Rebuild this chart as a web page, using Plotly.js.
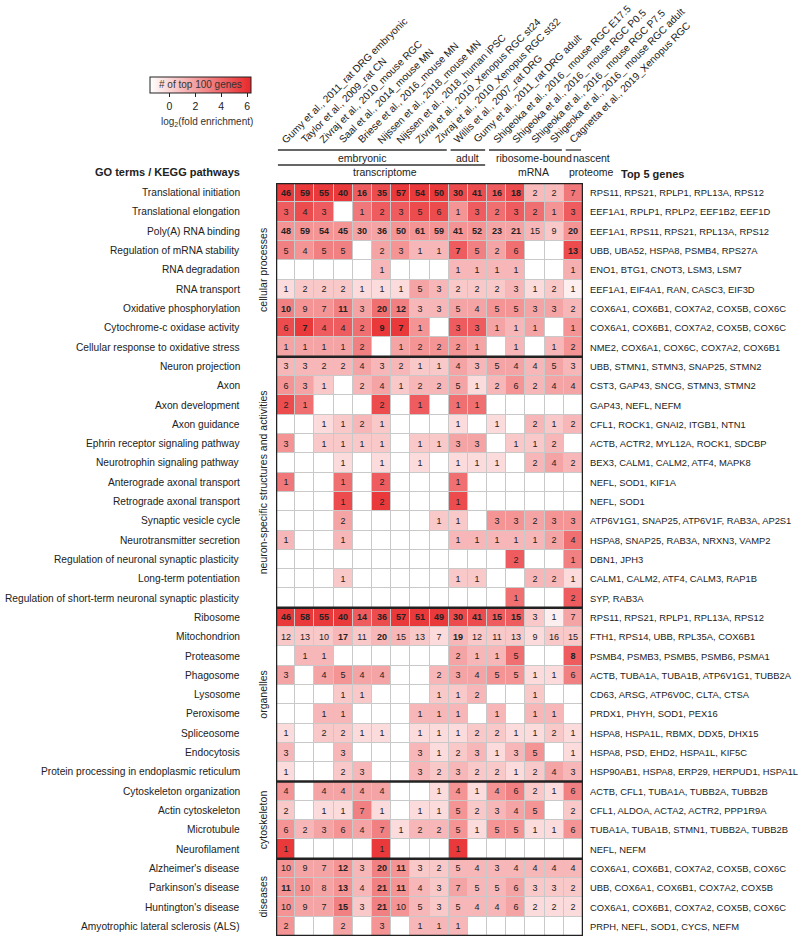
<!DOCTYPE html>
<html><head><meta charset="utf-8">
<script src="https://cdn.plot.ly/plotly-3.0.1.min.js"></script>
<style>html,body{margin:0;padding:0;background:#fff}</style>
</head><body><div id="chart" style="width:800px;height:939px"></div>
<script>
const _ = null;
const studies = [
  "Gumy et al., 2011_rat DRG embryonic",
  "Taylor et al., 2009_rat CN",
  "Zivraj et al., 2010_mouse RGC",
  "Saal et al., 2014_mouse MN",
  "Briese et al., 2016_mouse MN",
  "Nijssen et al., 2018_mouse MN",
  "Nijssen et al., 2018_human iPSC",
  "Zivraj et al., 2010_Xenopus RGC st24",
  "Zivraj et al., 2010_Xenopus RGC st32",
  "Willis et al., 2007_rat DRG",
  "Gumy et al., 2011_rat DRG adult",
  "Shigeoka et al., 2016_ mouse RGC E17.5",
  "Shigeoka et al., 2016_ mouse RGC P0.5",
  "Shigeoka et al., 2016_ mouse RGC P7.5",
  "Shigeoka et al., 2016_ mouse RGC adult",
  "Cagnetta et al., 2019_Xenopus RGC"
];
const stageLabels = ["embryonic", "adult", "ribosome-bound", "nascent"];
const stageSizes = [9, 2, 4, 1];
const methodLabels = ["transcriptome", "mRNA", "proteome"];
const methodSizes = [11, 4, 1];

const categoryGroups = ["cellular processes", "neuron-specific structures and activities", "organelles", "cytoskeleton", "diseases"];
const categoryGroupSizes = [9, 13, 9, 4, 4];

const categories = [
  "Translational initiation", "Translational elongation", "Poly(A) RNA binding", "Regulation of mRNA stability",
  "RNA degradation", "RNA transport", "Oxidative phosphorylation", "Cytochrome-c oxidase activity",
  "Cellular response to oxidative stress",
  "Neuron projection", "Axon", "Axon development", "Axon guidance", "Ephrin receptor signaling pathway",
  "Neurotrophin signaling pathway", "Anterograde axonal transport", "Retrograde axonal transport",
  "Synaptic vesicle cycle", "Neurotransmitter secretion", "Regulation of neuronal synaptic plasticity",
  "Long-term potentiation", "Regulation of short-term neuronal synaptic plasticity",
  "Ribosome", "Mitochondrion", "Proteasome", "Phagosome", "Lysosome", "Peroxisome", "Spliceosome",
  "Endocytosis", "Protein processing in endoplasmic reticulum",
  "Cytoskeleton organization", "Actin cytoskeleton", "Microtubule", "Neurofilament",
  "Alzheimer's disease", "Parkinson's disease", "Huntington's disease", "Amyotrophic lateral sclerosis (ALS)"
];

const topGenes = [
  "RPS11, RPS21, RPLP1, RPL13A, RPS12",
  "EEF1A1, RPLP1, RPLP2, EEF1B2, EEF1D",
  "EEF1A1, RPS11, RPS21, RPL13A, RPS12",
  "UBB, UBA52, HSPA8, PSMB4, RPS27A",
  "ENO1, BTG1, CNOT3, LSM3, LSM7",
  "EEF1A1, EIF4A1, RAN, CASC3, EIF3D",
  "COX6A1, COX6B1, COX7A2, COX5B, COX6C",
  "COX6A1, COX6B1, COX7A2, COX5B, COX6C",
  "NME2, COX6A1, COX6C, COX7A2, COX6B1",
  "UBB, STMN1, STMN3, SNAP25, STMN2",
  "CST3, GAP43, SNCG, STMN3, STMN2",
  "GAP43, NEFL, NEFM",
  "CFL1, ROCK1, GNAI2, ITGB1, NTN1",
  "ACTB, ACTR2, MYL12A, ROCK1, SDCBP",
  "BEX3, CALM1, CALM2, ATF4, MAPK8",
  "NEFL, SOD1, KIF1A",
  "NEFL, SOD1",
  "ATP6V1G1, SNAP25, ATP6V1F, RAB3A, AP2S1",
  "HSPA8, SNAP25, RAB3A, NRXN3, VAMP2",
  "DBN1, JPH3",
  "CALM1, CALM2, ATF4, CALM3, RAP1B",
  "SYP, RAB3A",
  "RPS11, RPS21, RPLP1, RPL13A, RPS12",
  "FTH1, RPS14, UBB, RPL35A, COX6B1",
  "PSMB4, PSMB3, PSMB5, PSMB6, PSMA1",
  "ACTB, TUBA1A, TUBA1B, ATP6V1G1, TUBB2A",
  "CD63, ARSG, ATP6V0C, CLTA, CTSA",
  "PRDX1, PHYH, SOD1, PEX16",
  "HSPA8, HSPA1L, RBMX, DDX5, DHX15",
  "HSPA8, PSD, EHD2, HSPA1L, KIF5C",
  "HSP90AB1, HSPA8, ERP29, HERPUD1, HSPA1L",
  "ACTB, CFL1, TUBA1A, TUBB2A, TUBB2B",
  "CFL1, ALDOA, ACTA2, ACTR2, PPP1R9A",
  "TUBA1A, TUBA1B, STMN1, TUBB2A, TUBB2B",
  "NEFL, NEFM",
  "COX6A1, COX6B1, COX7A2, COX5B, COX6C",
  "UBB, COX6A1, COX6B1, COX7A2, COX5B",
  "COX6A1, COX6B1, COX7A2, COX5B, COX6C",
  "PRPH, NEFL, SOD1, CYCS, NEFM"
];

// number of top-100 genes in each category (blank = none)
const geneCounts = [
  [46,59,55,40,16,35,57,54,50,30,41,16,18,2,2,7],
  [3,4,3,_,1,2,3,5,6,1,3,2,3,2,1,3],
  [48,59,54,45,30,36,50,61,59,41,52,23,21,15,9,20],
  [5,4,5,5,_,2,3,1,1,7,5,2,6,_,_,13],
  [_,_,_,_,_,1,_,_,_,1,1,1,1,_,_,1],
  [1,2,2,2,1,1,1,5,3,2,2,2,3,1,2,1],
  [10,9,7,11,3,20,12,3,3,5,4,5,5,3,3,2],
  [6,7,4,4,2,9,7,1,_,3,3,1,1,1,_,1],
  [1,1,1,1,2,_,1,2,2,2,1,_,1,_,1,2],
  [3,3,2,2,4,3,2,1,1,4,3,5,4,4,5,3],
  [6,3,1,_,2,4,1,2,2,5,1,2,6,2,4,4],
  [2,1,_,_,_,2,_,1,_,1,1,_,_,_,_,_],
  [_,_,1,1,2,1,_,_,_,1,_,1,_,2,1,2],
  [3,_,1,1,1,1,_,1,1,3,3,_,1,1,2,_],
  [_,_,_,1,_,1,_,1,_,1,1,1,_,2,4,2],
  [1,_,_,1,_,2,_,_,_,1,_,_,_,_,_,_],
  [_,_,_,1,_,2,_,_,_,1,_,_,_,_,_,_],
  [_,_,_,2,_,_,_,_,1,1,_,3,3,2,3,3],
  [1,_,_,1,_,_,_,_,_,1,1,1,1,1,2,4],
  [_,_,_,_,_,_,_,_,_,_,_,_,2,_,_,1],
  [_,_,_,1,_,_,_,_,_,1,1,_,_,2,2,1],
  [_,_,_,_,_,_,_,_,_,_,_,_,1,_,_,2],
  [46,58,55,40,14,36,57,51,49,30,41,15,15,3,1,7],
  [12,13,10,17,11,20,15,13,7,19,12,11,13,9,16,15],
  [_,1,1,_,_,_,_,_,_,2,1,1,5,_,_,8],
  [3,_,4,5,4,4,_,_,2,3,4,5,5,1,1,6],
  [_,_,_,1,1,_,_,_,1,1,2,_,_,1,_,_],
  [_,_,1,1,_,_,_,1,1,1,_,1,_,1,1,_],
  [1,_,2,2,1,1,_,1,1,1,2,2,1,1,2,1],
  [3,_,_,3,_,_,_,3,1,2,3,1,3,5,_,1],
  [1,_,_,2,3,_,_,3,2,3,2,2,1,2,4,3],
  [4,_,4,4,4,4,_,_,1,4,1,4,6,2,1,6],
  [2,_,1,1,7,1,_,1,1,5,2,3,4,5,_,2],
  [6,2,3,6,4,7,1,2,2,5,1,5,5,1,1,6],
  [1,_,_,_,_,1,_,_,_,1,_,_,_,_,_,_],
  [10,9,7,12,3,20,11,3,2,5,4,3,4,4,4,4],
  [11,10,8,13,4,21,11,4,3,7,5,5,6,3,3,2],
  [10,9,7,15,3,21,10,5,3,5,4,4,6,2,2,2],
  [2,_,_,2,_,3,_,1,1,1,_,_,_,_,_,_]
];

// log2(fold enrichment)
const log2Enrichment = [
  [5.7,5.7,5.7,5.7,4.4,5.0,5.7,5.7,5.7,5.0,5.0,4.4,5.0,1.0,1.0,3.4],
  [4.4,5.0,4.4,_,3.4,4.4,4.4,5.0,5.0,2.4,4.4,3.7,4.4,3.7,2.4,4.4],
  [2.4,2.4,2.4,2.4,1.8,1.8,2.4,2.4,2.4,2.4,2.4,1.8,1.8,1.1,0.5,2.4],
  [3.1,2.4,3.1,3.1,_,1.8,2.4,1.1,1.1,4.4,3.1,1.8,3.7,_,_,5.0],
  [_,_,_,_,_,1.1,_,_,_,1.1,1.1,1.1,1.1,_,_,1.4],
  [-0.2,0.5,0.5,0.5,-0.2,-0.2,-0.2,1.8,1.1,0.5,0.5,0.5,1.1,-0.2,0.5,-0.9],
  [3.1,2.4,2.4,3.1,1.8,3.7,3.1,1.1,1.1,1.8,1.8,2.4,2.4,1.8,1.8,1.1],
  [5.0,5.7,4.4,4.4,3.7,5.7,5.7,2.4,_,4.4,4.4,1.8,1.1,1.8,_,2.4],
  [1.8,1.8,1.8,1.8,3.1,_,1.8,2.4,2.4,2.4,1.8,_,1.1,_,1.1,2.4],
  [1.1,1.1,1.1,1.1,1.8,1.1,1.1,0.5,0.5,1.8,1.1,1.8,1.8,1.1,1.8,1.1],
  [2.4,1.8,0.5,_,1.1,1.8,0.5,1.1,1.1,1.8,-0.2,1.1,2.4,1.1,1.8,1.8],
  [5.0,3.7,_,_,_,5.0,_,4.4,_,3.7,3.7,_,_,_,_,_],
  [_,_,-0.2,0.5,1.1,0.5,_,_,_,-0.2,_,-0.2,_,1.1,0.5,1.1],
  [2.4,_,0.5,0.5,0.5,0.5,_,0.5,0.5,1.8,1.8,_,0.5,0.5,1.1,_],
  [_,_,_,-0.2,_,-0.2,_,-0.2,_,-0.2,-0.2,-0.2,_,1.1,1.8,1.1],
  [3.4,_,_,3.7,_,4.4,_,_,_,3.7,_,_,_,_,_,_],
  [_,_,_,5.0,_,5.7,_,_,_,5.0,_,_,_,_,_,_],
  [_,_,_,1.8,_,_,_,_,0.5,0.5,_,2.4,2.4,1.8,2.4,2.4],
  [1.1,_,_,1.1,_,_,_,_,_,1.1,1.1,1.1,1.1,1.1,1.8,3.7],
  [_,_,_,_,_,_,_,_,_,_,_,_,4.4,_,_,3.1],
  [_,_,_,0.5,_,_,_,_,_,0.5,0.5,_,_,1.1,1.1,-0.2],
  [_,_,_,_,_,_,_,_,_,_,_,_,3.7,_,_,4.4],
  [5.7,5.7,5.7,5.7,4.4,5.0,5.7,5.7,5.7,5.0,5.0,4.4,4.4,0.5,-0.9,1.8],
  [0.5,0.5,0.5,1.1,0.5,1.1,1.1,0.5,-0.2,1.1,0.5,0.5,0.5,-0.2,0.5,0.5],
  [_,1.1,1.1,_,_,_,_,_,_,1.8,1.1,1.1,3.7,_,_,4.4],
  [1.8,_,1.8,2.4,1.8,1.8,_,_,1.1,1.8,1.8,2.4,2.4,-0.2,-0.2,3.1],
  [_,_,_,0.5,0.5,_,_,_,0.5,0.5,1.1,_,_,0.5,_,_],
  [_,_,1.1,1.1,_,_,_,1.1,1.1,1.1,_,1.1,_,1.1,1.1,_],
  [-0.2,_,0.5,0.5,-0.2,-0.2,_,-0.2,-0.2,-0.2,0.5,0.5,-0.2,-0.2,0.5,-0.2],
  [1.1,_,_,1.1,_,_,_,1.1,-0.2,0.5,1.1,-0.2,1.1,2.4,_,-0.2],
  [-0.2,_,_,0.5,1.1,_,_,1.1,0.5,1.1,0.5,0.5,-0.2,0.5,1.8,1.1],
  [2.4,_,1.8,1.8,1.8,1.8,_,_,-0.2,2.4,-0.2,2.4,3.1,0.5,-0.2,3.1],
  [0.5,_,-0.2,-0.2,3.1,-0.2,_,-0.2,-0.2,2.4,0.5,1.1,1.8,2.4,_,0.5],
  [2.4,1.1,1.8,2.4,1.8,3.1,-0.2,1.1,1.1,2.4,-0.2,2.4,2.4,-0.2,-0.2,2.4],
  [5.7,_,_,_,_,5.7,_,_,_,5.7,_,_,_,_,_,_],
  [2.4,1.8,1.8,2.4,1.1,3.1,2.4,0.5,0.5,1.1,1.1,1.1,1.1,1.1,1.1,1.1],
  [2.4,2.4,1.8,2.4,1.1,3.1,2.4,1.1,0.5,1.8,1.1,1.1,1.8,0.5,0.5,0.5],
  [2.4,1.8,1.8,3.1,0.5,3.1,2.4,1.1,0.5,1.1,1.1,1.1,1.8,-0.2,-0.2,-0.2],
  [2.4,_,_,1.8,_,2.4,_,1.1,1.1,1.1,_,_,_,_,_,_]
];
const legendTicks = [0, 2, 4, 6];
const legendRange = [-1.5, 6.3];

// ---------- layout constants ----------
const FONT = "Liberation Sans, Arial, Helvetica, sans-serif";
const FW = 800, FH = 939, L = 276, R = 217, T = 183, B = 3;
const PW = FW - L - R, PH = FH - T - B;
const pxX = x => (x - L) / PW;
const pxY = y => (FH - B - y) / PH;
const INK = "#222";

const nR = categories.length, nC = studies.length;
const xs = studies.map((s, i) => i);
const ys = categories.map((c, i) => i);
const zDisp = log2Enrichment.map(r => r.map(v => v === null ? legendRange[0] : v));
const cellText = geneCounts.map((r, i) => r.map((v, j) => {
  if (v === null) return "";
  const z = log2Enrichment[i][j];
  return (v * (z + 1.5) > 39.5) ? "<b>" + v + "</b>" : String(v);
}));

const trace = {
  type: "heatmap", x: xs, y: ys, z: zDisp, text: cellText,
  texttemplate: "%{text}",
  textfont: {family: FONT, size: 9, color: INK},
  colorscale: [[0, "#ffffff"], [1, "#e8282b"]],
  zmin: legendRange[0], zmax: legendRange[1],
  xgap: 1, ygap: 1, hoverinfo: "skip",
  colorbar: {
    orientation: "h", x: pxX(150), xanchor: "left", y: pxY(77), yanchor: "top",
    len: 101, lenmode: "pixels", thickness: 16, thicknessmode: "pixels",
    xpad: 0, ypad: 0, outlinewidth: 1, outlinecolor: INK,
    tickvals: legendTicks, ticks: "outside", ticklen: 4, tickcolor: INK,
    tickfont: {family: FONT, size: 10.5, color: INK}
  }
};

const shapes = [];
const annotations = [];
const ann = o => annotations.push(Object.assign({showarrow: false}, o));

// outer frame
shapes.push({type: "rect", xref: "x", yref: "y", x0: -0.5, x1: nC - 0.5, y0: -0.5, y1: nR - 0.5,
  line: {color: INK, width: 2.5}});

// category groups
let start = 0;
categoryGroups.forEach((g, gi) => {
  const end = start + categoryGroupSizes[gi] - 1;
  if (gi > 0) shapes.push({type: "line", xref: "x", yref: "y", x0: -0.5, x1: nC - 0.5,
    y0: start - 0.5, y1: start - 0.5, line: {color: INK, width: 2.5}});
  shapes.push({type: "line", xref: "x", yref: "y", xsizemode: "pixel", xanchor: -0.5,
    x0: -26, x1: -26, y0: start - 0.4, y1: end + 0.4, line: {color: "#444", width: 1}});
  ann({x: -0.5, xref: "x", xshift: -13, y: (start + end) / 2, yref: "y", textangle: -90,
    xanchor: "center", yanchor: "middle", text: g, font: {family: FONT, size: 10.5, color: INK}});
  start = end + 1;
});

// row labels & top genes
categories.forEach((c, i) => {
  ann({x: -0.5, xref: "x", xshift: -34, y: i, yref: "y", xanchor: "right", yanchor: "middle",
    text: c, font: {family: FONT, size: 10.2, color: INK}});
  ann({x: nC - 0.5, xref: "x", xshift: 5, y: i, yref: "y", xanchor: "left", yanchor: "middle",
    text: topGenes[i], font: {family: FONT, size: 9.4, color: INK}});
});

// column labels
studies.forEach((s, i) => {
  ann({x: i, xref: "x", xshift: -9, y: 1, yref: "paper", yshift: 35, xanchor: "left", yanchor: "bottom",
    textangle: -45, text: s, font: {family: FONT, size: 10.2, color: INK}});
});

// column group headers
const stageShift = [0, 0, 9, 18];
start = 0;
stageLabels.forEach((g, gi) => {
  const end = start + stageSizes[gi] - 1;
  shapes.push({type: "line", xref: "x", yref: "paper", ysizemode: "pixel", yanchor: 1,
    y0: 33, y1: 33, x0: start - 0.4, x1: end + 0.4, line: {color: "#333", width: 1.3}});
  ann({x: (start + end) / 2, xref: "x", xshift: stageShift[gi], y: 1, yref: "paper", yshift: 25,
    xanchor: "center", yanchor: "middle", text: g, font: {family: FONT, size: 10.5, color: INK}});
  start = end + 1;
});
const methodShift = [3, 8, 18];
start = 0;
methodLabels.forEach((g, gi) => {
  const end = start + methodSizes[gi] - 1;
  if (gi === 0) shapes.push({type: "line", xref: "x", yref: "paper", ysizemode: "pixel", yanchor: 1,
    y0: 18, y1: 18, x0: start - 0.4, x1: end + 0.4, line: {color: "#333", width: 1.3}});
  ann({x: (start + end) / 2, xref: "x", xshift: methodShift[gi], y: 1, yref: "paper", yshift: 11,
    xanchor: "center", yanchor: "middle", text: g, font: {family: FONT, size: 10.5, color: INK}});
  start = end + 1;
});

// headings
ann({x: -0.5, xref: "x", xshift: -34, y: 1, yref: "paper", yshift: 11, xanchor: "right", yanchor: "middle",
  text: "<b>GO terms / KEGG pathways</b>", font: {family: FONT, size: 11, color: INK}});
ann({x: nC - 0.5, xref: "x", xshift: 36, y: 1, yref: "paper", yshift: 9, xanchor: "left", yanchor: "middle",
  text: "<b>Top 5 genes</b>", font: {family: FONT, size: 11, color: INK}});

// legend labels
ann({x: pxX(200.5), xref: "paper", y: pxY(85), yref: "paper", xanchor: "center", yanchor: "middle",
  text: "# of top 100 genes", font: {family: FONT, size: 10, color: "#333"}});
ann({x: pxX(207), xref: "paper", y: pxY(122), yref: "paper", xanchor: "center", yanchor: "middle",
  text: "log<sub>2</sub>(fold enrichment)", font: {family: FONT, size: 10, color: "#333"}});

const layout = {
  width: FW, height: FH,
  margin: {l: L, r: R, t: T, b: B, pad: 0},
  paper_bgcolor: "#ffffff", plot_bgcolor: "#c9c9c9",
  font: {family: FONT, color: INK},
  xaxis: {range: [-0.5, nC - 0.5], visible: false, fixedrange: true},
  yaxis: {range: [nR - 0.5, -0.5], visible: false, fixedrange: true},
  shapes: shapes, annotations: annotations, showlegend: false
};

Plotly.newPlot("chart", [trace], layout, {displayModeBar: false, staticPlot: true});
</script>
</body></html>
